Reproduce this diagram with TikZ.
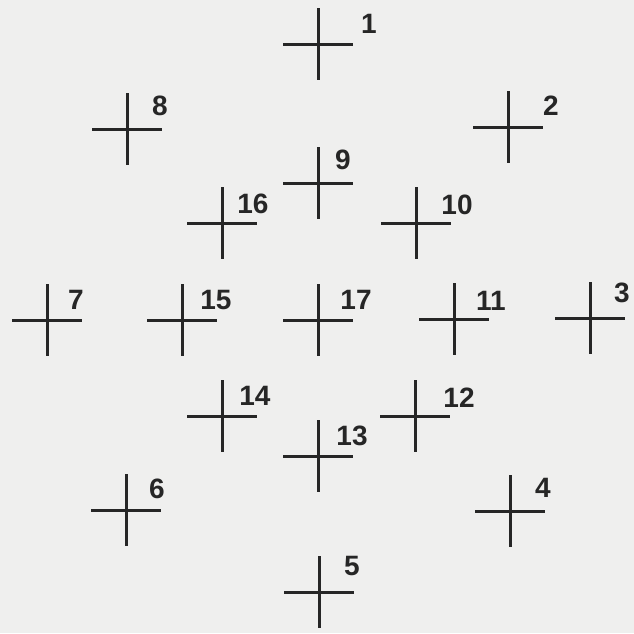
\documentclass[tikz,border=0pt]{standalone}
\usepackage{fontspec}
\setmainfont{Liberation Sans}
\usepackage{tikz}
\definecolor{sheetBg}{HTML}{EFEFEE}
\definecolor{markInk}{HTML}{262626}

\begin{document}
\begin{tikzpicture}[
  x=1pt,y=-1pt,
  crossline/.style={draw=markInk,line width=3pt},
  numlbl/.style={text=markInk,font=\fontsize{28}{29}\selectfont\bfseries,inner sep=0pt}
]
% sheet
\fill[sheetBg] (0,0) rectangle (634,633);
\useasboundingbox (0,0) rectangle (634,633);

% crosses: id / centre / label position
\foreach \id/\cx/\cy/\lx/\ly in {
  1/318/44/369/24, 2/508/127/551/106, 3/590/318/622/293,
  4/510/511/543/488, 5/319/592/352/566, 6/126/510/157/489,
  7/47/320/76/300, 8/127/129/160/106, 9/318/183/343/160,
  10/416/223/457/205, 11/454/319/491/301, 12/415/416/459/398,
  13/318/456/352/436, 14/222/416/255/396, 15/182/320/216/300,
  16/222/223/253/204, 17/318/320/356/300}{
  \coordinate (p\id) at (\cx,\cy);
  \draw[crossline] (p\id) +(-35,0) -- +(35,0);
  \draw[crossline] (p\id) +(0,-36) -- +(0,36);
  \node[numlbl] (n\id) at (\lx,\ly) {\id};
}
\end{tikzpicture}
\end{document}
